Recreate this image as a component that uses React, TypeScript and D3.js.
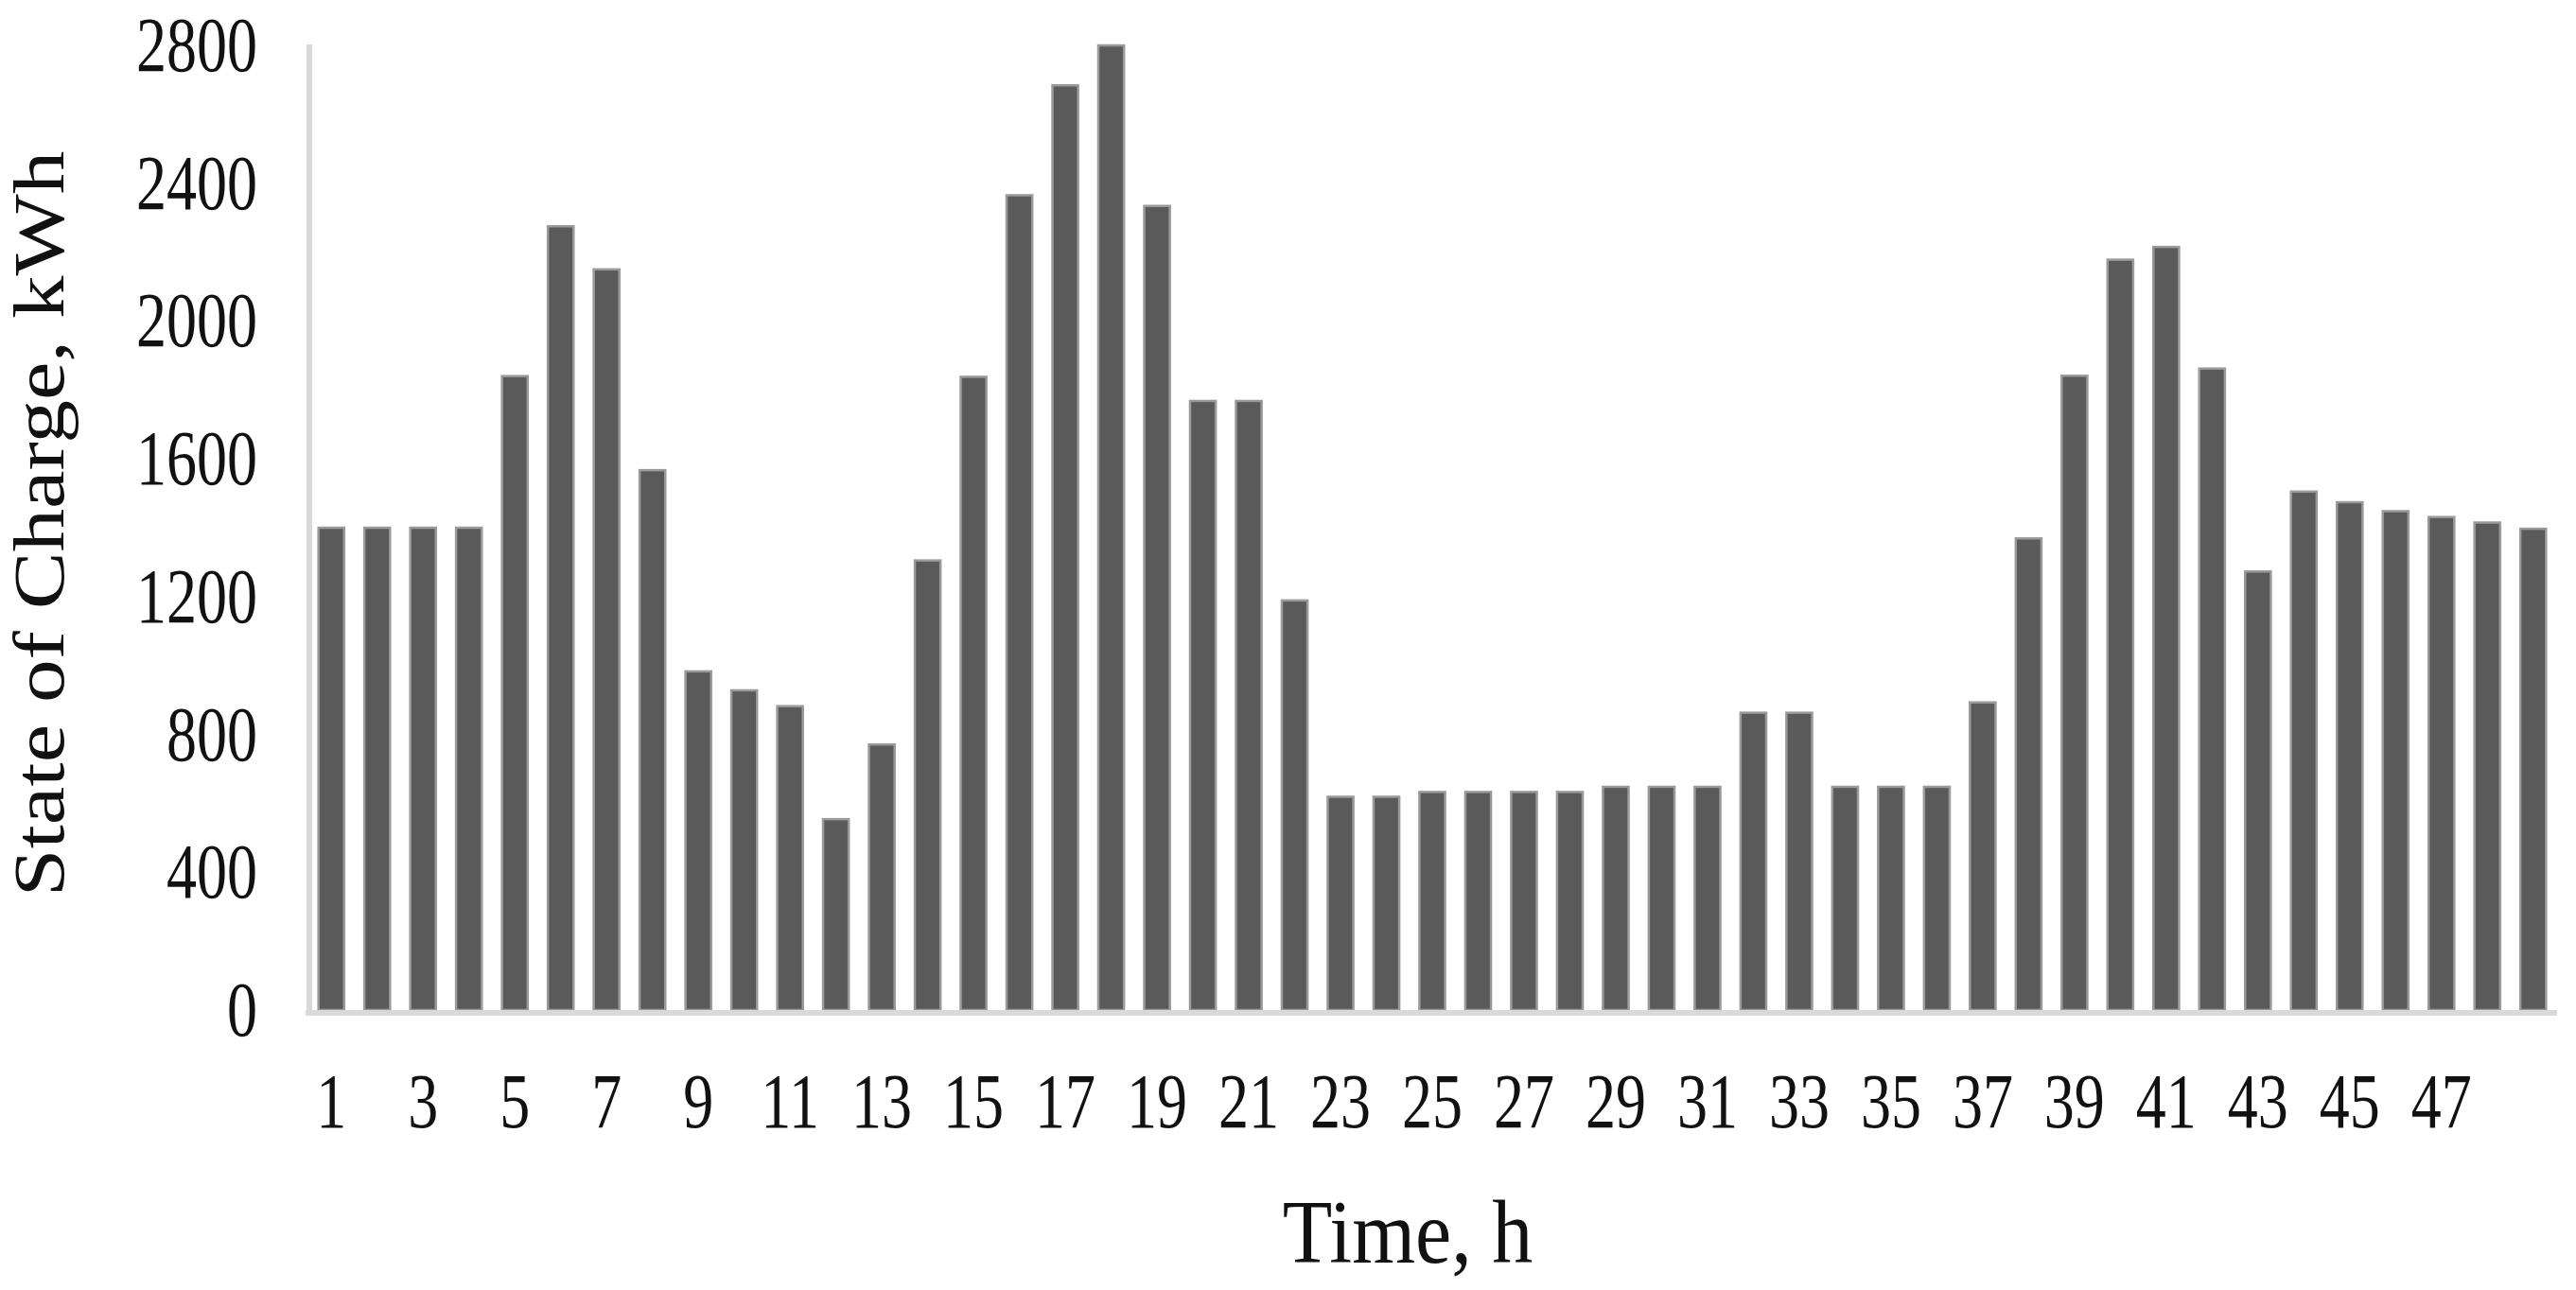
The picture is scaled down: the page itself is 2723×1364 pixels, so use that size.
import React from "react";
import * as d3 from "d3";

const hours: string[] = Array.from({ length: 49 }, (_, i) => String(i + 1));
const stateOfCharge: number[] = [
  1400, 1400, 1400, 1400, 1840, 2275, 2150, 1567, 983, 928, 882, 554, 771,
  1305, 1838, 2365, 2684, 2800, 2334, 1768, 1768, 1189, 619, 619, 633, 633,
  633, 633, 648, 648, 648, 863, 863, 648, 648, 648, 893, 1369, 1841, 2178,
  2215, 1862, 1273, 1505, 1474, 1448, 1431, 1415, 1397,
];
const xTickLabels: string[] = [
  "1", "3", "5", "7", "9", "11", "13", "15", "17", "19", "21", "23", "25",
  "27", "29", "31", "33", "35", "37", "39", "41", "43", "45", "47",
];
const yTicks: number[] = [0, 400, 800, 1200, 1600, 2000, 2400, 2800];
const yTitle = "State of Charge, kWh";
const xTitle = "Time, h";

const W = 2723;
const H = 1364;
const FONT = "'Liberation Serif', 'Times New Roman', serif";

export default function App() {
  const x = d3
    .scaleBand<string>()
    .domain(hours)
    .range([326, 2702])
    .paddingInner(0.44)
    .paddingOuter(0.22);
  const y = d3.scaleLinear().domain([0, 2800]).range([1068, 48]);
  const bw = x.bandwidth();

  return (
    <svg
      width={W}
      height={H}
      style={{ position: "absolute", left: 0, top: 0, background: "#fff" }}
      fontFamily={FONT}
    >
      <rect x={0} y={0} width={W} height={H} fill="#fff" />
      {stateOfCharge.map((v, i) => (
        <rect
          key={i}
          x={x(hours[i])!}
          y={y(v)}
          width={bw}
          height={y(0) - y(v)}
          fill="#5a5a5a"
          stroke="#9a9a9a"
          strokeWidth={2.5}
        />
      ))}
      {/* axes */}
      <line x1={327} x2={327} y1={y(2800) - 1} y2={y(0) + 4} stroke="#d9d9d9" strokeWidth={6} />
      <line x1={323} x2={2703} y1={y(0) + 3} y2={y(0) + 3} stroke="#d9d9d9" strokeWidth={6} />
      {/* y tick labels */}
      {yTicks.map((t) => (
        <text
          key={t}
          transform={`translate(272,${y(t) + 27}) scale(1,1.3)`}
          textAnchor="end"
          fontSize={64}
          fill="#111"
        >
          {t}
        </text>
      ))}
      {/* x tick labels */}
      {xTickLabels.map((l) => (
        <text
          key={l}
          transform={`translate(${x(l)! + bw / 2},1192) scale(1,1.3)`}
          textAnchor="middle"
          fontSize={64}
          fill="#111"
        >
          {l}
        </text>
      ))}
      {/* titles */}
      <text
        transform={`translate(1488,1335) scale(1,1.1)`}
        textAnchor="middle"
        fontSize={86}
        fill="#111"
      >
        {xTitle}
      </text>
      <text
        transform={`translate(67,554) rotate(-90) scale(1.2,1)`}
        textAnchor="middle"
        fontSize={76}
        fill="#111"
      >
        {yTitle}
      </text>
    </svg>
  );
}
